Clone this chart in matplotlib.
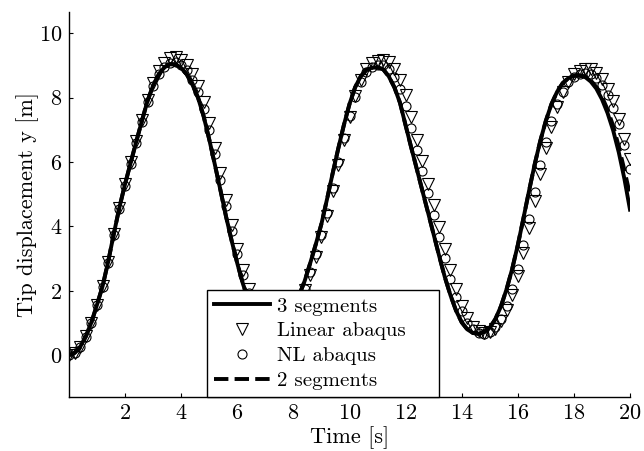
import numpy as np
import matplotlib
matplotlib.use("Agg")
import matplotlib.pyplot as plt

# === Data (time step 0.2 s) ===
time = np.round(np.arange(0, 20.0001, 0.2), 1)

three_segments = [
    0.00, 0.07, 0.26, 0.58, 1.02, 1.57, 2.15, 2.92, 3.78, 4.60,
    5.32, 5.98, 6.64, 7.28, 7.90, 8.38, 8.72, 8.94, 9.04, 9.03,
    8.92, 8.72, 8.40, 8.00, 7.42, 6.70, 5.92, 5.12, 4.30, 3.55,
    2.85, 2.22, 1.68, 1.24, 0.93, 0.74, 0.68, 0.74, 0.88, 1.12,
    1.45, 1.85, 2.30, 2.86, 3.45, 4.08, 4.85, 5.65, 6.42, 7.15,
    7.80, 8.32, 8.66, 8.86, 8.93, 8.94, 8.88, 8.66, 8.32, 7.84,
    7.14, 6.45, 5.78, 5.10, 4.43, 3.75, 3.07, 2.42, 1.86, 1.38,
    1.02, 0.80, 0.69, 0.66, 0.72, 0.85, 1.12, 1.52, 2.05, 2.68,
    3.42, 4.25, 5.10, 5.92, 6.65, 7.28, 7.80, 8.18, 8.45, 8.60,
    8.68, 8.69, 8.64, 8.50, 8.28, 7.95, 7.52, 6.98, 6.30, 5.48,
    4.52,
]

two_segments = [
    0.00, 0.07, 0.26, 0.58, 1.02, 1.57, 2.15, 2.92, 3.78, 4.60,
    5.32, 5.98, 6.64, 7.28, 7.90, 8.38, 8.72, 8.94, 9.04, 9.03,
    8.92, 8.72, 8.40, 8.00, 7.42, 6.70, 5.92, 5.12, 4.30, 3.55,
    2.85, 2.22, 1.68, 1.24, 0.93, 0.74, 0.68, 0.74, 0.88, 1.12,
    1.45, 1.85, 2.30, 2.86, 3.45, 4.08, 4.85, 5.65, 6.42, 7.15,
    7.80, 8.32, 8.66, 8.86, 8.93, 8.94, 8.88, 8.66, 8.32, 7.84,
    7.14, 6.45, 5.78, 5.10, 4.43, 3.75, 3.07, 2.42, 1.86, 1.38,
    1.02, 0.80, 0.69, 0.66, 0.72, 0.85, 1.12, 1.52, 2.05, 2.68,
    3.42, 4.25, 5.10, 5.92, 6.65, 7.28, 7.80, 8.18, 8.45, 8.60,
    8.68, 8.69, 8.66, 8.53, 8.33, 8.03, 7.63, 7.12, 6.48, 5.75,
    4.98,
]

linear_abaqus = [
    0.02, 0.07, 0.26, 0.58, 1.01, 1.56, 2.14, 2.89, 3.75, 4.58,
    5.32, 6.00, 6.66, 7.31, 7.94, 8.46, 8.84, 9.09, 9.23, 9.27,
    9.18, 9.02, 8.74, 8.37, 7.86, 7.20, 6.45, 5.65, 4.83, 4.04,
    3.31, 2.63, 2.04, 1.54, 1.15, 0.88, 0.74, 0.72, 0.80, 0.98,
    1.24, 1.59, 2.01, 2.49, 3.06, 3.66, 4.32, 5.10, 5.90, 6.67,
    7.40, 8.04, 8.55, 8.89, 9.08, 9.15, 9.16, 9.10, 8.89, 8.55,
    8.08, 7.39, 6.69, 6.02, 5.33, 4.65, 3.98, 3.29, 2.63, 2.04,
    1.54, 1.15, 0.88, 0.74, 0.69, 0.72, 0.82, 1.05, 1.39, 1.87,
    2.46, 3.16, 3.96, 4.80, 5.64, 6.42, 7.10, 7.70, 8.16, 8.50,
    8.72, 8.84, 8.90, 8.89, 8.78, 8.58, 8.28, 7.88, 7.35, 6.72,
    6.10,
]

nl_abaqus = [
    0.00, 0.07, 0.25, 0.57, 1.01, 1.55, 2.11, 2.87, 3.72, 4.54,
    5.27, 5.93, 6.59, 7.23, 7.85, 8.36, 8.72, 8.96, 9.09, 9.11,
    9.02, 8.85, 8.56, 8.19, 7.66, 6.99, 6.24, 5.44, 4.64, 3.86,
    3.15, 2.50, 1.92, 1.44, 1.08, 0.84, 0.72, 0.72, 0.82, 1.01,
    1.29, 1.65, 2.07, 2.57, 3.13, 3.74, 4.42, 5.20, 5.99, 6.74,
    7.44, 8.03, 8.50, 8.79, 8.95, 9.00, 9.01, 8.89, 8.65, 8.28,
    7.75, 7.06, 6.37, 5.71, 5.03, 4.35, 3.68, 3.01, 2.38, 1.82,
    1.36, 1.01, 0.80, 0.70, 0.67, 0.73, 0.86, 1.13, 1.52, 2.06,
    2.67, 3.41, 4.23, 5.07, 5.90, 6.63, 7.27, 7.79, 8.18, 8.48,
    8.64, 8.74, 8.76, 8.72, 8.60, 8.40, 8.09, 7.69, 7.19, 6.54,
    5.78,
]

x_ticks = [2, 4, 6, 8, 10, 12, 14, 16, 18, 20]
y_ticks = [0, 2, 4, 6, 8, 10]

# === Style ===
plt.rcParams["font.family"] = "serif"
plt.rcParams["font.serif"] = ["cmr10"]
plt.rcParams["mathtext.fontset"] = "cm"
plt.rcParams["axes.formatter.use_mathtext"] = True
plt.rcParams["axes.unicode_minus"] = False

fig = plt.figure(figsize=(6.44, 4.51), dpi=100)
ax = fig.add_axes([69 / 644, 1 - 397 / 451, (630 - 69) / 644, (397 - 12) / 451])

ax.plot(time, three_segments, color="black", lw=2.8, label="3 segments")
ax.plot(time, linear_abaqus, ls="none", marker="v", ms=8, mfc="none",
        mec="black", mew=0.8, label="Linear abaqus")
ax.plot(time, nl_abaqus, ls="none", marker="o", ms=6.5, mfc="none",
        mec="black", mew=0.8, label="NL abaqus")
ax.plot(time, two_segments, color="black", lw=2.8, ls="--", label="2 segments")

ax.set_xlim(0, 20)
ax.set_ylim(-1.3, 10.66)
ax.set_xticks(x_ticks)
ax.set_yticks(y_ticks)
ax.tick_params(direction="in", length=3, width=0.8, labelsize=16, pad=5)

for side in ("top", "right"):
    ax.spines[side].set_visible(False)
for side in ("left", "bottom"):
    ax.spines[side].set_linewidth(1.0)

ax.set_xlabel("Time [s]", fontsize=16, labelpad=2)
ax.set_ylabel("Tip displacement y [m]", fontsize=16, labelpad=0)

# legend box spans px 207..439 horizontally and sits on the x axis
leg = ax.legend(loc="lower left",
                bbox_to_anchor=((207 - 69) / 561, 0.0, (439 - 207) / 561, 0.25),
                mode="expand", borderaxespad=0, fontsize=15, numpoints=1,
                fancybox=False, framealpha=1, edgecolor="black",
                handlelength=2.7, handletextpad=0.35, labelspacing=0.3,
                borderpad=0.33)
leg.get_frame().set_linewidth(1.0)
leg.set_zorder(5)

fig.savefig("out.png", dpi=100)
